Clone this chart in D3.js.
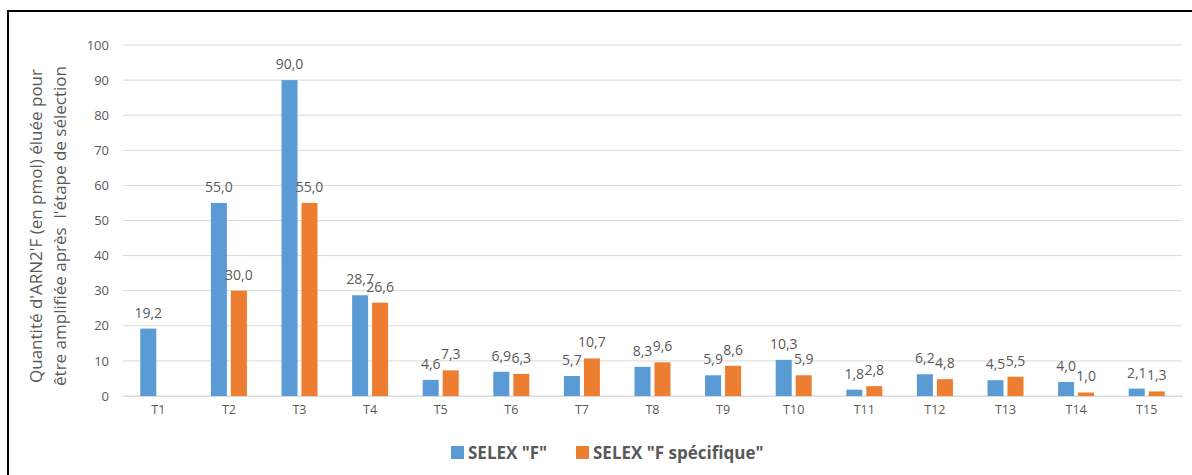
<!DOCTYPE html>
<html>
<head>
<meta charset="utf-8">
<script src="https://cdn.jsdelivr.net/npm/d3@7"></script>
<style>
  body { margin: 0; background: #fff; }
  svg { display: block; font-family: "Open Sans", "Liberation Sans", Arial, sans-serif; }
</style>
</head>
<body>
<svg id="chart" width="1192" height="475"></svg>
<script>
const categories = ["T1","T2","T3","T4","T5","T6","T7","T8","T9","T10","T11","T12","T13","T14","T15"];
const seriesNames = ['SELEX "F"', 'SELEX "F spécifique"'];
const selexF = [19.2, 55.0, 90.0, 28.7, 4.6, 6.9, 5.7, 8.3, 5.9, 10.3, 1.8, 6.2, 4.5, 4.0, 2.1];
const selexFSpec = [null, 30.0, 55.0, 26.6, 7.3, 6.3, 10.7, 9.6, 8.6, 5.9, 2.8, 4.8, 5.5, 1.0, 1.3];
const yTicks = [0, 10, 20, 30, 40, 50, 60, 70, 80, 90, 100];
const colors = ["#5B9BD5", "#ED7D31"];
const yTitleLines = ["Quantité d'ARN2'F (en pmol) éluée pour", "être amplifiée après  l'étape de sélection"];

const svg = d3.select("#chart");
const textColor = "#595959";
const font = '"Open Sans", "Liberation Sans", Arial, sans-serif';

// frame
svg.append("rect").attr("x", 8).attr("y", 11).attr("width", 1200).attr("height", 480)
  .attr("fill", "#fff").attr("stroke", "#000").attr("stroke-width", 2);

const x = d3.scaleBand().domain(categories).range([123, 1182]).padding(0);
const y = d3.scaleLinear().domain([0, 100]).range([396, 45]);
const x1 = d3.scaleBand().domain([0, 1]).range([0, 36]).paddingInner(0.2);

// gridlines
svg.append("g").selectAll("line").data(yTicks).join("line")
  .attr("x1", 123).attr("x2", 1182)
  .attr("y1", d => y(d)).attr("y2", d => y(d))
  .attr("stroke", "#D9D9D9").attr("stroke-width", 1);

// y axis labels
const yAxis = d3.axisLeft(y).tickValues(yTicks).tickSize(0).tickPadding(0).tickFormat(d3.format("d"));
const gy = svg.append("g").attr("transform", "translate(109,0)").call(yAxis);
gy.select(".domain").remove();
gy.selectAll("text").attr("fill", textColor).attr("font-size", 13).attr("font-family", font);

// x axis
const xAxis = d3.axisBottom(x).tickSize(0).tickPadding(0);
const gx = svg.append("g").attr("transform", "translate(0,396)").call(xAxis);
gx.select(".domain").attr("stroke", "#D9D9D9");
gx.selectAll("text").attr("fill", textColor).attr("font-size", 12.5).attr("dy", "1.45em")
  .attr("font-family", font);

// data rows
const rows = [];
categories.forEach((c, i) => {
  [selexF, selexFSpec].forEach((arr, s) => {
    if (arr[i] !== null) rows.push({ cat: c, s, v: arr[i] });
  });
});

const fmt = v => v.toFixed(1).replace(".", ",");
const groupOffset = x.bandwidth() / 2 - 18;

svg.append("g").selectAll("rect").data(rows).join("rect")
  .attr("x", d => x(d.cat) + groupOffset + x1(d.s))
  .attr("width", x1.bandwidth())
  .attr("y", d => y(d.v))
  .attr("height", d => y(0) - y(d.v))
  .attr("fill", d => colors[d.s]);

svg.append("g").selectAll("text").data(rows).join("text")
  .attr("x", d => x(d.cat) + groupOffset + x1(d.s) + x1.bandwidth() / 2)
  .attr("y", d => y(d.v) - 11)
  .attr("text-anchor", "middle")
  .attr("fill", textColor)
  .attr("font-size", 14)
  .text(d => fmt(d.v));

// y title
const yt = svg.append("text")
  .attr("transform", "translate(0,226) rotate(-90)")
  .attr("text-anchor", "middle")
  .attr("fill", textColor)
  .attr("font-size", 17);
yTitleLines.forEach((t, i) => {
  yt.append("tspan").attr("x", 0).attr("y", 42 + i * 24).attr("xml:space", "preserve").text(t);
});

// legend
const legend = [
  { name: seriesNames[0], c: colors[0], x: 451 },
  { name: seriesNames[1], c: colors[1], x: 576 }
];
const lg = svg.append("g");
legend.forEach(l => {
  lg.append("rect").attr("x", l.x).attr("y", 446).attr("width", 13).attr("height", 13).attr("fill", l.c);
  lg.append("text").attr("x", l.x + 17).attr("y", 459).attr("fill", textColor)
    .attr("font-size", 17).attr("font-weight", "bold").attr("font-family", font).text(l.name);
});
</script>
</body>
</html>
